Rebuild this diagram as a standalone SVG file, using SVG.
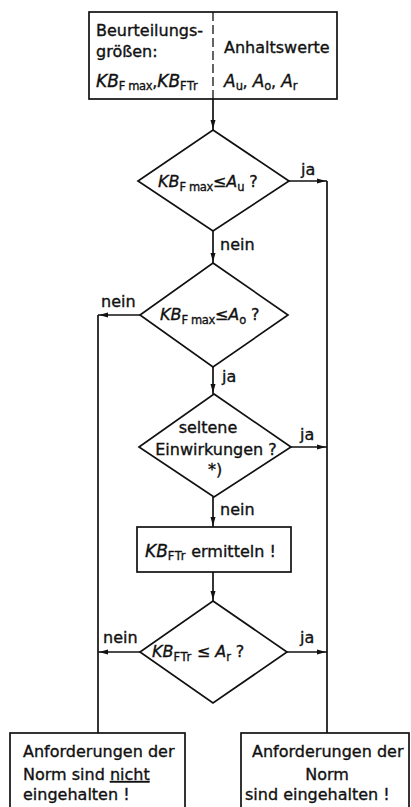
<svg xmlns="http://www.w3.org/2000/svg" width="411" height="807" viewBox="0 0 411 807">
<defs>
<marker id="arr" markerUnits="userSpaceOnUse" markerWidth="12" markerHeight="8" refX="10" refY="3" orient="auto">
<path d="M0,0.5 L9,3 L0,5.5 z" fill="#111"/>
</marker>
<style>
.s{fill:none;stroke:#111;stroke-width:1.7}
.b{fill:#fff;stroke:#111;stroke-width:1.7}
text{font-family:"DejaVu Sans",sans-serif;font-size:16px;fill:#111;stroke:#111;stroke-width:0.35}
.i{font-style:italic}
.sub{font-size:11.5px;letter-spacing:-0.4px}
.sub2{font-size:11.5px;letter-spacing:0.6px}
</style>
</defs>
<rect width="411" height="807" fill="#fff"/>

<g id="connectors" class="s">
<path d="M213,99 V130" marker-end="url(#arr)"/>
<path d="M289,181 H327" marker-end="url(#arr)"/>
<path d="M327,181 V733"/>
<path d="M213,231 V263" marker-end="url(#arr)"/>
<path d="M140,315 H98" marker-end="url(#arr)"/>
<path d="M98,315 V733"/>
<path d="M213,367 V394" marker-end="url(#arr)"/>
<path d="M291,447 H327" marker-end="url(#arr)"/>
<path d="M213,497 V527" marker-end="url(#arr)"/>
<path d="M213,572 V601" marker-end="url(#arr)"/>
<path d="M140,652 H98" marker-end="url(#arr)"/>
<path d="M287,652 H327" marker-end="url(#arr)"/>
<text x="301" y="175">ja</text>
<text x="220" y="250">nein</text>
<text x="101" y="307">nein</text>
<text x="222" y="382">ja</text>
<text x="300" y="440">ja</text>
<text x="220" y="515">nein</text>
<text x="103" y="643">nein</text>
<text x="300" y="643">ja</text>
</g>

<g id="start">
<rect class="b" x="89" y="12" width="248" height="87"/>
<path d="M213,12 V99" fill="none" stroke="#111" stroke-width="1.3" stroke-dasharray="9 4"/>
<text x="96" y="36">Beurteilungs-</text>
<text x="96" y="57">größen:</text>
<text x="96" y="87"><tspan class="i" font-size="17">KB</tspan><tspan class="sub" dy="3">F max</tspan><tspan dy="-3">,</tspan><tspan class="i" font-size="17">KB</tspan><tspan class="sub2" dy="3">FTr</tspan></text>
<text x="224" y="53">Anhaltswerte</text>
<text x="224" y="87"><tspan class="i" font-size="17">A</tspan><tspan class="sub" dy="3">u</tspan><tspan dy="-3">, </tspan><tspan class="i" font-size="17">A</tspan><tspan class="sub" dy="3">o</tspan><tspan dy="-3">, </tspan><tspan class="i" font-size="17">A</tspan><tspan class="sub" dy="3">r</tspan></text>
</g>

<g id="d1">
<polygon class="b" points="213,130 289,181 213,231 138,181"/>
<text x="158" y="187" font-size="17"><tspan class="i">KB</tspan><tspan class="sub" dy="4">F max</tspan><tspan dy="-4">≤</tspan><tspan class="i">A</tspan><tspan class="sub" dy="4">u</tspan><tspan dy="-4"> ?</tspan></text>
</g>

<g id="d2">
<polygon class="b" points="213,263 288,315 213,367 140,315"/>
<text x="160" y="320" font-size="17"><tspan class="i">KB</tspan><tspan class="sub" dy="4">F max</tspan><tspan dy="-4">≤</tspan><tspan class="i">A</tspan><tspan class="sub" dy="4">o</tspan><tspan dy="-4"> ?</tspan></text>
</g>

<g id="d3">
<polygon class="b" points="214,394 291,447 214,497 139,447"/>
<text x="208" y="433" text-anchor="middle">seltene</text>
<text x="216" y="455" text-anchor="middle">Einwirkungen ?</text>
<text x="215" y="475" text-anchor="middle" font-size="14">*)</text>
</g>

<g id="p1">
<rect class="b" x="137" y="527" width="154" height="45"/>
<text x="145" y="557"><tspan class="i" font-size="17">KB</tspan><tspan class="sub2" dy="3">FTr</tspan><tspan dy="-3"> ermitteln !</tspan></text>
</g>

<g id="d4">
<polygon class="b" points="213,601 287,652 213,703 140,652"/>
<text x="152" y="657" font-size="17"><tspan class="i">KB</tspan><tspan class="sub2" dy="4">FTr</tspan><tspan dy="-4"> ≤ </tspan><tspan class="i">A</tspan><tspan class="sub" dy="4">r</tspan><tspan dy="-4"> ?</tspan></text>
</g>

<g id="e1">
<rect class="b" x="10" y="733" width="175" height="85"/>
<text x="23" y="757">Anforderungen der</text>
<text x="23" y="780">Norm sind <tspan text-decoration="underline">nicht</tspan></text>
<text x="23" y="800">eingehalten !</text>
</g>

<g id="e2">
<rect class="b" x="241" y="733" width="168" height="85"/>
<text x="252" y="757">Anforderungen der</text>
<text x="327" y="780" text-anchor="middle">Norm</text>
<text x="245" y="800">sind eingehalten !</text>
</g>
</svg>
